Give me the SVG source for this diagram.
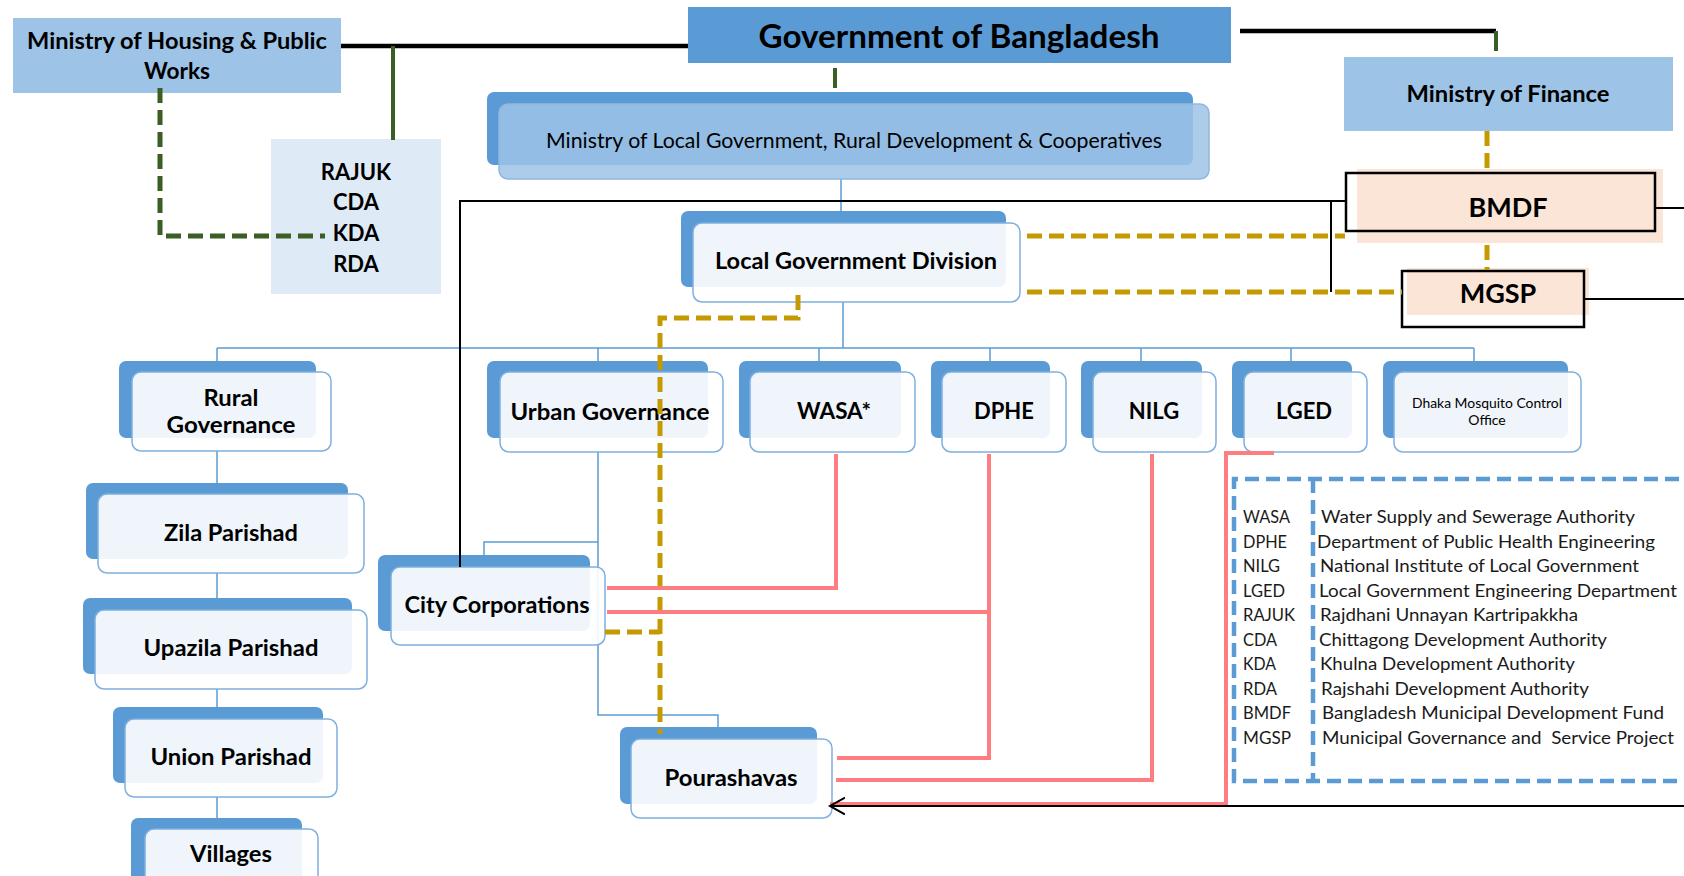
<svg xmlns="http://www.w3.org/2000/svg" width="1684" height="876" viewBox="0 0 1684 876">
<defs>
<style>
text{font-family:Lato,'Liberation Sans',sans-serif;fill:#000}
.b{font-weight:bold;font-size:22px}
.b2{font-weight:bold;font-size:23.5px}
.c{text-anchor:middle}
.back{fill:#5B9BD5}
.front{fill:#fff;fill-opacity:0.9;stroke:#7FB0DE;stroke-width:1.5}
.tree{stroke:#5B9BD5;stroke-width:1.5;fill:none}
.gold{stroke:#C49A00;stroke-width:5;fill:none;stroke-dasharray:15 7}
.green{stroke:#3B5E25;stroke-width:4;fill:none}
.gdash{stroke:#3B5E25;stroke-width:5;fill:none;stroke-dasharray:15 7}
.red{stroke:#FF7C80;stroke-width:4;fill:none}
.blk{stroke:#000;stroke-width:4.5;fill:none}
.thin{stroke:#000;stroke-width:2;fill:none}
.leg{stroke:#5B9BD5;stroke-width:4.5;fill:none;stroke-dasharray:14 7}
.lt{font-size:18px;fill:#1a1a1a}
</style>
<marker id="arr" markerUnits="userSpaceOnUse" markerWidth="18" markerHeight="20" refX="15" refY="8.5" orient="auto">
<path d="M0,0 L15,8.5 L0,17" fill="none" stroke="#000" stroke-width="2"/>
</marker>
</defs>
<rect width="1684" height="876" fill="#fff"/>

<g id="connectors-tree">
<path class="tree" d="M841,179 V211 M843,302 V348 M217,348 H1474 M217,348 V361 M598,348 V361 M819,348 V361 M990,348 V361 M1141,348 V361 M1291,348 V361 M1474,348 V361"/>
<path class="tree" d="M217,451 V483 M217,573 V598 M217,689 V707 M217,797 V818"/>
<path class="tree" d="M598,452 V542 H484 V555 M598,542 V715 H718 V727"/>
</g>

<g id="housing">
<rect x="13" y="18" width="328" height="75" fill="#9DC3E6"/>
<text class="b c" x="177" y="49" textLength="300" lengthAdjust="spacingAndGlyphs">Ministry of Housing &amp; Public</text>
<text class="b c" x="177" y="79" textLength="66" lengthAdjust="spacingAndGlyphs">Works</text>
</g>
<g id="gov">
<rect x="688" y="7" width="543" height="56" fill="#5B9BD5"/>
<text class="c" x="959" y="48" font-size="32" font-weight="bold" textLength="401" lengthAdjust="spacingAndGlyphs">Government of Bangladesh</text>
</g>
<g id="finance">
<rect x="1344" y="57" width="329" height="74" fill="#9DC3E6"/>
<text class="b c" x="1508" y="102" textLength="203" lengthAdjust="spacingAndGlyphs">Ministry of Finance</text>
</g>
<g id="rajuk">
<rect x="271" y="139" width="170" height="155" fill="#DEEBF7"/>
<text class="b c" x="356" y="180">RAJUK</text>
<text class="b c" x="356" y="210">CDA</text>
<text class="b c" x="356" y="241">KDA</text>
<text class="b c" x="356" y="272">RDA</text>
</g>
<g id="molg">
<rect x="487" y="92" width="706" height="73" rx="7" fill="#5B9BD5"/>
<rect x="499" y="104" width="710" height="75" rx="9" fill="#9DC3E6" fill-opacity="0.85" stroke="#8FB8E0" stroke-width="1.5"/>
<text class="c" x="854" y="148" font-size="20.5" textLength="616" lengthAdjust="spacingAndGlyphs">Ministry of Local Government, Rural Development &amp; Cooperatives</text>
</g>
<g id="lgd">
<rect class="back" x="681" y="211" width="325" height="76" rx="7"/>
<rect class="front" x="693" y="223" width="327" height="79" rx="9"/>
<text class="b2 c" x="856" y="269" textLength="282" lengthAdjust="spacingAndGlyphs">Local Government Division</text>
</g>
<g id="bmdf">
<rect x="1357" y="169" width="306" height="74" fill="#FBE5D6"/>
<rect x="1346" y="173" width="309" height="58" fill="none" stroke="#000" stroke-width="2.5"/>
<text class="c" x="1508" y="217" font-size="27" font-weight="bold">BMDF</text>
</g>
<g id="mgsp">
<rect x="1407" y="268" width="182" height="47" fill="#FBE5D6"/>
<rect x="1402" y="271" width="182" height="56" fill="none" stroke="#000" stroke-width="2.5"/>
<text class="c" x="1498" y="303" font-size="27" font-weight="bold">MGSP</text>
</g>

<g id="rural">
<rect class="back" x="119" y="361" width="197" height="77" rx="7"/>
<rect class="front" x="132" y="372" width="199" height="79" rx="9"/>
<text class="b2 c" x="231" y="406" textLength="55" lengthAdjust="spacingAndGlyphs">Rural</text>
<text class="b2 c" x="231" y="433" textLength="129" lengthAdjust="spacingAndGlyphs">Governance</text>
</g>
<g id="zila">
<rect class="back" x="86" y="483" width="262" height="76" rx="7"/>
<rect class="front" x="98" y="494" width="266" height="79" rx="9"/>
<text class="b2 c" x="231" y="541" textLength="134" lengthAdjust="spacingAndGlyphs">Zila Parishad</text>
</g>
<g id="upazila">
<rect class="back" x="83" y="598" width="269" height="76" rx="7"/>
<rect class="front" x="95" y="610" width="272" height="79" rx="9"/>
<text class="b2 c" x="231" y="656" textLength="175" lengthAdjust="spacingAndGlyphs">Upazila Parishad</text>
</g>
<g id="union">
<rect class="back" x="113" y="707" width="210" height="76" rx="7"/>
<rect class="front" x="125" y="719" width="212" height="78" rx="9"/>
<text class="b2 c" x="231" y="765" textLength="161" lengthAdjust="spacingAndGlyphs">Union Parishad</text>
</g>
<g id="villages">
<rect class="back" x="131" y="818" width="171" height="72" rx="7"/>
<rect class="front" x="145" y="829" width="173" height="72" rx="9"/>
<text class="b2 c" x="231" y="862" textLength="82" lengthAdjust="spacingAndGlyphs">Villages</text>
</g>
<g id="urban">
<rect class="back" x="487" y="361" width="221" height="77" rx="7"/>
<rect class="front" x="500" y="372" width="223" height="80" rx="9"/>
<text class="b2 c" x="610" y="420" textLength="199" lengthAdjust="spacingAndGlyphs">Urban Governance</text>
</g>
<g id="wasa">
<rect class="back" x="739" y="361" width="162" height="77" rx="7"/>
<rect class="front" x="750" y="372" width="165" height="80" rx="9"/>
<text class="b c" x="834" y="419" textLength="74" lengthAdjust="spacingAndGlyphs">WASA*</text>
</g>
<g id="dphe">
<rect class="back" x="931" y="361" width="119" height="77" rx="7"/>
<rect class="front" x="942" y="372" width="124" height="80" rx="9"/>
<text class="b c" x="1004" y="419">DPHE</text>
</g>
<g id="nilg">
<rect class="back" x="1081" y="361" width="121" height="77" rx="7"/>
<rect class="front" x="1093" y="372" width="123" height="80" rx="9"/>
<text class="b c" x="1154" y="419">NILG</text>
</g>
<g id="lged">
<rect class="back" x="1232" y="361" width="120" height="77" rx="7"/>
<rect class="front" x="1244" y="372" width="123" height="80" rx="9"/>
<text class="b c" x="1304" y="419">LGED</text>
</g>
<g id="dhaka">
<rect class="back" x="1383" y="361" width="185" height="77" rx="7"/>
<rect class="front" x="1394" y="372" width="187" height="80" rx="9"/>
<text class="c" x="1487" y="408" font-size="14" textLength="150" lengthAdjust="spacingAndGlyphs">Dhaka Mosquito Control</text>
<text class="c" x="1487" y="425" font-size="14">Office</text>
</g>
<g id="city">
<rect class="back" x="378" y="555" width="212" height="76" rx="7"/>
<rect class="front" x="391" y="567" width="214" height="78" rx="9"/>
<text class="b2 c" x="497" y="613" textLength="185" lengthAdjust="spacingAndGlyphs">City Corporations</text>
</g>
<g id="pourashavas">
<rect class="back" x="620" y="727" width="197" height="77" rx="7"/>
<rect class="front" x="631" y="739" width="201" height="79" rx="9"/>
<text class="b2 c" x="731" y="786" textLength="133" lengthAdjust="spacingAndGlyphs">Pourashavas</text>
</g>

<g id="legend">
<path class="leg" d="M1700,479 H1234 V781 H1700"/>
<path class="leg" d="M1313,479 V781"/>
<text class="lt" x="1243" y="523" textLength="47" lengthAdjust="spacingAndGlyphs">WASA</text>
<text class="lt" x="1243" y="547.5" textLength="44" lengthAdjust="spacingAndGlyphs">DPHE</text>
<text class="lt" x="1243" y="572" textLength="37" lengthAdjust="spacingAndGlyphs">NILG</text>
<text class="lt" x="1243" y="596.5" textLength="42" lengthAdjust="spacingAndGlyphs">LGED</text>
<text class="lt" x="1243" y="621" textLength="52" lengthAdjust="spacingAndGlyphs">RAJUK</text>
<text class="lt" x="1243" y="645.5" textLength="34" lengthAdjust="spacingAndGlyphs">CDA</text>
<text class="lt" x="1243" y="670" textLength="33" lengthAdjust="spacingAndGlyphs">KDA</text>
<text class="lt" x="1243" y="694.5" textLength="34" lengthAdjust="spacingAndGlyphs">RDA</text>
<text class="lt" x="1243" y="719" textLength="48" lengthAdjust="spacingAndGlyphs">BMDF</text>
<text class="lt" x="1243" y="744" textLength="48" lengthAdjust="spacingAndGlyphs">MGSP</text>
<text class="lt" x="1321" y="523" textLength="314" lengthAdjust="spacingAndGlyphs">Water Supply and Sewerage Authority</text>
<text class="lt" x="1317" y="547.5" textLength="338" lengthAdjust="spacingAndGlyphs">Department of Public Health Engineering</text>
<text class="lt" x="1320" y="572" textLength="319" lengthAdjust="spacingAndGlyphs">National Institute of Local Government</text>
<text class="lt" x="1319" y="596.5" textLength="358" lengthAdjust="spacingAndGlyphs">Local Government Engineering Department</text>
<text class="lt" x="1320" y="621" textLength="258" lengthAdjust="spacingAndGlyphs">Rajdhani Unnayan Kartripakkha</text>
<text class="lt" x="1319" y="645.5" textLength="288" lengthAdjust="spacingAndGlyphs">Chittagong Development Authority</text>
<text class="lt" x="1320" y="670" textLength="255" lengthAdjust="spacingAndGlyphs">Khulna Development Authority</text>
<text class="lt" x="1321" y="694.5" textLength="268" lengthAdjust="spacingAndGlyphs">Rajshahi Development Authority</text>
<text class="lt" x="1322" y="719" textLength="342" lengthAdjust="spacingAndGlyphs">Bangladesh Municipal Development Fund</text>
<text class="lt" x="1322" y="744" textLength="352" lengthAdjust="spacingAndGlyphs" xml:space="preserve">Municipal Governance and  Service Project</text>
</g>

<g id="connectors">
<path class="blk" d="M341,46 H688"/>
<path class="blk" d="M1240,31 H1496"/>
<path class="green" d="M1496,31 V51 M393,46 V140 M835,68 V88"/>
<path class="gdash" d="M160,88 V236 H325"/>
<path class="thin" d="M460,567 V201 H1346 M1331,201 V292"/>
<path class="thin" d="M1655,208 H1684 M1584,299 H1684"/>
<path class="gold" d="M1027,236 H1345"/>
<path class="gold" d="M1027,292 H1402"/>
<path class="gold" d="M1487,131 V172"/>
<path class="gold" d="M1487,245 V270"/>
<path class="gold" d="M798,295 V318 H660 V734"/>
<path class="gold" d="M605,632 H660"/>
<path class="red" d="M836,454 V588 H607"/>
<path class="red" d="M989,454 V758 H837 M989,612 H607"/>
<path class="red" d="M1152,454 V780 H836"/>
<path class="red" d="M1274,453 H1226 V804 H830"/>
<path class="thin" d="M1684,806 H830" marker-end="url(#arr)"/>
</g>
</svg>
